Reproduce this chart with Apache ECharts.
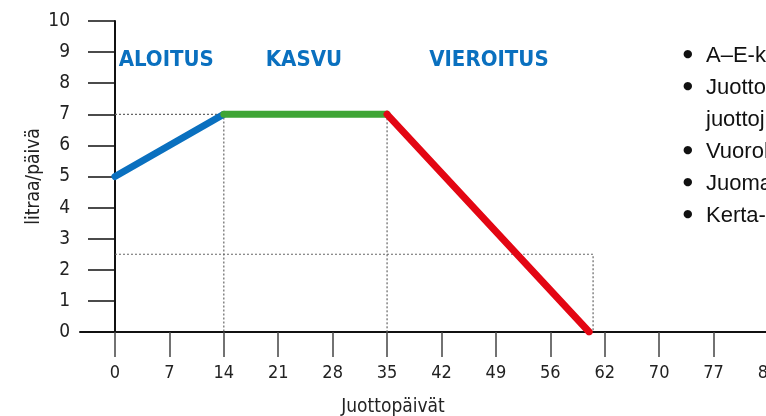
<!DOCTYPE html>
<html>
<head>
<meta charset="utf-8">
<script src="https://cdn.jsdelivr.net/npm/echarts@6/dist/echarts.min.js"></script>
<style>
  html, body { margin: 0; padding: 0; background: #fff; }
  #chart { width: 766px; height: 416px; }
</style>
</head>
<body>
<div id="chart"></div>
<script>
// juottokäyrä: päivät ja litraa/päivä
const days = [0, 14, 35, 61]
const litres = [5, 7, 7, 0]

// x-akselin tikit ja niiden tekstit (alkuperäisessä "62")
const tickValues = [0, 7, 14, 21, 28, 35, 42, 49, 56, 63, 70, 77, 84]
const tickLabels = ['0', '7', '14', '21', '28', '35', '42', '49', '56', '62', '70', '77', '84']

// apuviivat (pisteviivat)
const guideA = [[0, 7], [14, 7], [14, 0]]
const guideB = [[35, 7], [35, 0]]
const guideC = [[0, 2.5], [61.5, 2.5], [61.5, 0]]

// vaiheiden nimet
const phaseNames = ['ALOITUS', 'KASVU', 'VIEROITUS']
const phaseDays = [6.6, 24.3, 48.1]
const phaseLevel = 8.75

// oikean reunan luettelo (leikkautuu reunaan)
const noteLines = ['A–E-k', 'Juotto', 'juottoj', 'Vuorok', 'Juoma', 'Kerta-']
const noteBullets = [true, true, false, true, true, true]

const narrow = "'Liberation Sans Narrow', 'DejaVu Sans Condensed', sans-serif"
const blue = '#0a70bf'

const myChart = echarts.init(document.getElementById('chart'))

const seg = (i) => [[days[i], litres[i]], [days[i + 1], litres[i + 1]]]

const lineSeries = (data, color) => ({
  type: 'line',
  data: data,
  showSymbol: false,
  silent: true,
  z: 5,
  lineStyle: { color: color, width: 7, cap: 'round', join: 'round' }
})

const guideSeries = (data) => ({
  type: 'line',
  data: data,
  showSymbol: false,
  silent: true,
  z: 2,
  lineStyle: { color: '#666', width: 1.2, type: [2, 2] }
})

const option = {
  animation: false,
  backgroundColor: '#fff',
  grid: { left: 80, top: 21, width: 688, height: 311, outerBoundsMode: 'none' },
  xAxis: {
    type: 'value',
    min: -4.5,
    max: 84,
    splitLine: { show: false },
    axisLine: { onZero: false, lineStyle: { color: '#111', width: 2 } },
    axisTick: {
      customValues: tickValues,
      length: 25,
      lineStyle: { color: '#444', width: 1.5 }
    },
    axisLabel: {
      customValues: tickValues,
      margin: 32,
      color: '#222',
      fontFamily: narrow,
      fontSize: 18,
      formatter: (v) => tickLabels[tickValues.indexOf(v)]
    }
  },
  yAxis: {
    type: 'value',
    min: 0,
    max: 10,
    interval: 1,
    name: 'litraa/päivä',
    nameLocation: 'middle',
    nameGap: 36,
    nameMoveOverlap: false,
    nameTextStyle: { color: '#222', fontFamily: narrow, fontSize: 19 },
    splitLine: { show: false },
    axisLine: { onZero: true, lineStyle: { color: '#111', width: 2 } },
    axisTick: { length: 27, lineStyle: { color: '#111', width: 1.5 } },
    axisLabel: { margin: 10, color: '#222', fontFamily: narrow, fontSize: 19 }
  },
  graphic: [
    {
      type: 'text',
      x: 393,
      y: 398,
      style: { text: 'Juottopäivät', font: "19px " + narrow, fill: '#222', align: 'center' }
    },
    {
      type: 'text',
      x: 683,
      y: 38,
      style: {
        text: noteBullets.map(b => b ? '●' : '').join('\n'),
        font: "11px 'DejaVu Sans', sans-serif",
        lineHeight: 32,
        fill: '#111'
      }
    },
    {
      type: 'text',
      x: 706,
      y: 40,
      style: {
        text: noteLines.join('\n'),
        font: "22px 'Liberation Sans', sans-serif",
        lineHeight: 32,
        fill: '#111'
      }
    }
  ],
  series: [
    guideSeries(guideA),
    guideSeries(guideB),
    guideSeries(guideC),
    lineSeries(seg(0), '#0a70bf'),
    lineSeries(seg(1), '#3fa535'),
    lineSeries(seg(2), '#e30613'),
    {
      type: 'scatter',
      symbolSize: 0,
      silent: true,
      itemStyle: { opacity: 1 },
      data: phaseNames.map((n, i) => ({ name: n, value: [phaseDays[i], phaseLevel] })),
      label: {
        show: true,
        position: 'inside',
        formatter: '{b}',
        color: blue,
        opacity: 1,
        fontFamily: narrow,
        fontWeight: 'bold',
        fontSize: 22
      }
    }
  ]
}

option && myChart.setOption(option)
</script>
</body>
</html>
